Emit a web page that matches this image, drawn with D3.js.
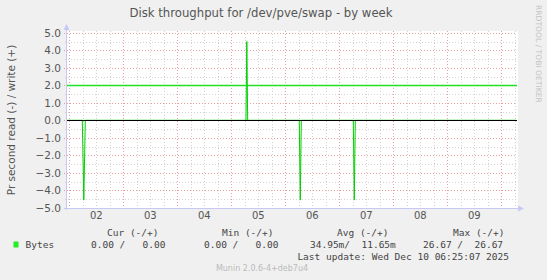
<!DOCTYPE html>
<html>
<head>
<meta charset="utf-8">
<script src="https://cdn.jsdelivr.net/npm/d3@7"></script>
<style>
  body { margin: 0; background: #f0f0f0; }
  svg { display: block; }
  .mono { font-family: "DejaVu Sans Mono", monospace; white-space: pre; }
</style>
</head>
<body>
<div id="chart"></div>
<script>
// du lieu doc tu hinh
var titleText = "Disk throughput for /dev/pve/swap - by week";
var yLabel = "Pr second read (-) / write (+)";
var timeDomain = ["2025-12-01T23:00", "2025-12-10T07:00"];
var yTicks = [-5, -4, -3, -2, -1, 0, 1, 2, 3, 4, 5];

// read di xuong duoi (-), write len tren (+)
var readTimes = ["2025-12-01T23:00", "2025-12-02T05:48", "2025-12-02T06:28", "2025-12-02T07:08",
                 "2025-12-06T06:14", "2025-12-06T06:41", "2025-12-06T07:08",
                 "2025-12-07T06:14", "2025-12-07T06:41", "2025-12-07T07:08", "2025-12-10T06:25"];
var readValues = [0, 0, -4.55, 0, 0, -4.55, 0, 0, -4.55, 0, 0];
var writeTimes = ["2025-12-01T23:00", "2025-12-05T06:33", "2025-12-05T06:55", "2025-12-05T07:18", "2025-12-10T06:25"];
var writeValues = [0, 0, 4.5, 0, 0];
var hruleValues = [2.0];

var statNames = ["Cur", "Min", "Avg", "Max"];
var readStats = ["0.00", "0.00", "34.95m", "26.67"];
var writeStats = ["0.00", "0.00", "11.65m", "26.67"];
var seriesName = "Bytes";
var lastUpdate = "Last update: Wed Dec 10 06:25:07 2025";
var footer = "Munin 2.0.6-4+deb7u4";

var W = 547, H = 280;
var plot = { left: 67, right: 517, top: 31, bottom: 208 };

var svg = d3.select("#chart").append("svg")
  .attr("width", W).attr("height", H);

svg.append("rect").attr("width", W).attr("height", H).attr("fill", "#f0f0f0");

var parse = d3.timeParse("%Y-%m-%dT%H:%M");

var x = d3.scaleTime()
  .domain(timeDomain.map(parse))
  .range([plot.left, plot.right]);

var y = d3.scaleLinear()
  .domain([-5, 5.1])
  .range([plot.bottom, plot.top]);

// nen trang cua vung ve
svg.append("rect")
  .attr("x", plot.left).attr("y", plot.top)
  .attr("width", plot.right - plot.left + 1).attr("height", plot.bottom - plot.top)
  .attr("fill", "#ffffff");

// luoi phu (xam)
var minorX = x.ticks(d3.timeHour.every(6)).filter(function(d) { return d.getHours() != 0; });
svg.selectAll(".minx").data(minorX).enter().append("line")
  .attr("x1", function(d) { return Math.round(x(d)) + 0.5; })
  .attr("x2", function(d) { return Math.round(x(d)) + 0.5; })
  .attr("y1", plot.top).attr("y2", plot.bottom + 2)
  .attr("stroke", "#d4d4d4").attr("stroke-dasharray", "1,2");

var minorY = d3.range(-4.5, 5, 1);
svg.selectAll(".miny").data(minorY).enter().append("line")
  .attr("x1", plot.left - 2).attr("x2", plot.right)
  .attr("y1", function(d) { return Math.round(y(d)) + 0.5; })
  .attr("y2", function(d) { return Math.round(y(d)) + 0.5; })
  .attr("stroke", "#d4d4d4").attr("stroke-dasharray", "1,2");

// luoi chinh (do)
var majorX = x.ticks(d3.timeDay.every(1));
svg.selectAll(".majx").data(majorX).enter().append("line")
  .attr("x1", function(d) { return Math.round(x(d)) + 0.5; })
  .attr("x2", function(d) { return Math.round(x(d)) + 0.5; })
  .attr("y1", plot.top).attr("y2", plot.bottom + 3)
  .attr("stroke", "#eaa0a0").attr("stroke-dasharray", "1,2");

svg.selectAll(".majy").data(yTicks).enter().append("line")
  .attr("x1", plot.left - 3).attr("x2", plot.right)
  .attr("y1", function(d) { return Math.round(y(d)) + 0.5; })
  .attr("y2", function(d) { return Math.round(y(d)) + 0.5; })
  .attr("stroke", "#eaa0a0").attr("stroke-dasharray", "1,2");

// nhan truc y
svg.selectAll(".ylab").data(yTicks).enter().append("text")
  .attr("x", 61).attr("y", function(d) { return y(d) + 4; })
  .attr("text-anchor", "end")
  .attr("font-family", "DejaVu Sans").attr("font-size", "10.5px")
  .attr("fill", "#555")
  .text(function(d) { return d3.format(".1f")(d); });

// nhan truc x, dat o giua ngay
var dayLabels = majorX.slice(0, -1);
svg.selectAll(".xlab").data(dayLabels).enter().append("text")
  .attr("x", function(d) { return x(d3.timeHour.offset(d, 12)); })
  .attr("y", 219)
  .attr("text-anchor", "middle")
  .attr("font-family", "DejaVu Sans").attr("font-size", "10px")
  .attr("fill", "#555")
  .text(d3.timeFormat("%d"));

// truc va mui ten
var axisColor = "#c8c8f4";
svg.append("line")
  .attr("x1", plot.left - 0.5).attr("x2", plot.left - 0.5)
  .attr("y1", plot.bottom + 2).attr("y2", 27)
  .attr("stroke", axisColor);
svg.append("path")
  .attr("d", "M" + (plot.left - 3.5) + ",30 L" + (plot.left - 0.5) + ",24 L" + (plot.left + 2.5) + ",30 Z")
  .attr("fill", axisColor);
svg.append("line")
  .attr("x1", plot.left - 3).attr("x2", plot.right + 2)
  .attr("y1", plot.bottom + 0.5).attr("y2", plot.bottom + 0.5)
  .attr("stroke", axisColor);
svg.append("path")
  .attr("d", "M" + (plot.right + 1) + "," + (plot.bottom - 2.5) + " L" + (plot.right + 7) + "," + (plot.bottom + 0.5) + " L" + (plot.right + 1) + "," + (plot.bottom + 3.5) + " Z")
  .attr("fill", axisColor);

// du lieu
var green = "#00d000";
var line = d3.line()
  .x(function(d) { return x(d.t); })
  .y(function(d) { return y(d.v); });

var readData = readTimes.map(function(t, i) { return { t: parse(t), v: readValues[i] }; });
var writeData = writeTimes.map(function(t, i) { return { t: parse(t), v: writeValues[i] }; });

svg.selectAll(".hrule").data(hruleValues).enter().append("line")
  .attr("x1", plot.left).attr("x2", plot.right)
  .attr("y1", function(d) { return Math.round(y(d)) + 0.5; })
  .attr("y2", function(d) { return Math.round(y(d)) + 0.5; })
  .attr("stroke", "#22e022").attr("stroke-width", 1.3);

[readData, writeData].forEach(function(s) {
  svg.append("path")
    .datum(s)
    .attr("d", line)
    .attr("fill", "none")
    .attr("stroke", green)
    .attr("stroke-width", 1);
});

// duong 0 mau den
svg.append("line")
  .attr("x1", plot.left).attr("x2", plot.right)
  .attr("y1", Math.round(y(0)) + 0.5).attr("y2", Math.round(y(0)) + 0.5)
  .attr("stroke", "#000").attr("stroke-width", 1);

// tieu de
svg.append("text")
  .attr("x", 261).attr("y", 17)
  .attr("text-anchor", "middle")
  .attr("font-family", "DejaVu Sans").attr("font-size", "11.7px")
  .attr("fill", "#555")
  .text(titleText);

svg.append("text")
  .attr("transform", "translate(15,120)rotate(-90)")
  .attr("text-anchor", "middle")
  .attr("font-family", "DejaVu Sans").attr("font-size", "10.5px")
  .attr("fill", "#555")
  .text(yLabel);

svg.append("text")
  .attr("transform", "translate(536,5)rotate(90)")
  .attr("text-anchor", "start")
  .attr("font-family", "DejaVu Sans").attr("font-size", "7.6px")
  .attr("fill", "#c4c4c4")
  .text("RRDTOOL / TOBI OETIKER");

// chu thich
var headX = [107, 222, 337, 453];
var valX = [91, 204, 310, 423];
svg.selectAll(".head").data(statNames).enter().append("text")
  .attr("class", "mono")
  .attr("x", function(d, i) { return headX[i]; }).attr("y", 236)
  .attr("font-size", "9.5px").attr("fill", "#444")
  .text(function(d) { return d + " (-/+)"; });

var fmt = function(v) { return /[a-zA-Z]$/.test(v) ? v : v + " "; };
svg.selectAll(".val").data(readStats).enter().append("text")
  .attr("class", "mono")
  .attr("x", function(d, i) { return valX[i]; }).attr("y", 248)
  .attr("font-size", "9.5px").attr("fill", "#444")
  .text(function(d, i) { return fmt(d) + "/" + fmt(writeStats[i]).padStart(8); });

svg.append("rect")
  .attr("x", 13.5).attr("y", 241.5).attr("width", 5).attr("height", 6)
  .attr("fill", "#22ee22");
svg.append("text")
  .attr("class", "mono")
  .attr("x", 25.5).attr("y", 248)
  .attr("font-size", "9.5px").attr("fill", "#444")
  .text(seriesName);

svg.append("text")
  .attr("class", "mono")
  .attr("x", 509).attr("y", 260)
  .attr("text-anchor", "end")
  .attr("font-size", "9.5px").attr("fill", "#444")
  .text(lastUpdate);

svg.append("text")
  .attr("x", 262).attr("y", 271)
  .attr("text-anchor", "middle")
  .attr("font-family", "DejaVu Sans").attr("font-size", "8px")
  .attr("fill", "#bbb")
  .text(footer);
</script>
</body>
</html>
